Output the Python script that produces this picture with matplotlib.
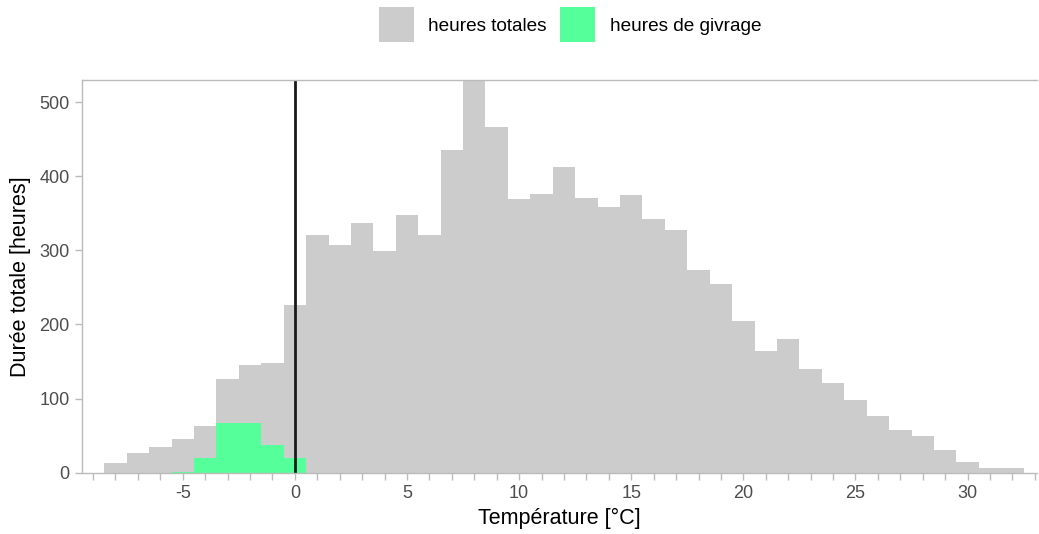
import numpy as np
import matplotlib
matplotlib.use("Agg")
import matplotlib.pyplot as plt
from matplotlib.patches import Patch

plt.rcParams['font.family'] = ['Liberation Sans', 'DejaVu Sans']
plt.rcParams['axes.unicode_minus'] = False

# bins of 1 degC centred on integer temperatures
temp_total = list(range(-8, 33))
heures_totales = [13.5, 26, 35, 46, 63, 126, 145, 148, 226,
                  320, 307, 337, 299, 348, 320, 435, 560, 466, 369,
                  376, 413, 371, 359, 375, 342, 328, 273, 255, 204,
                  164, 181, 140, 121, 98, 77, 58, 50, 30, 14, 6, 7]

temp_givrage = [-5, -4, -3, -2, -1, 0]
heures_givrage = [1, 19.5, 67.5, 67.5, 37, 20]

grey = "#cccccc"
green = "#55ff99"

fig = plt.figure(figsize=(10.39, 5.34), dpi=100)
ax = fig.add_axes([0.0792, 0.1148, 0.9190, 0.7348])

ax.bar(temp_total, heures_totales, width=1.0, color=grey, linewidth=0)
ax.bar(temp_givrage, heures_givrage, width=1.0, color=green, linewidth=0)
ax.axvline(0, color="#1a1a1a", linewidth=2)

ax.set_xlim(-9.48, 33.1)
ax.set_ylim(0, 529.3)

ax.set_xticks(np.arange(-5, 35, 5))
ax.set_xticks(np.arange(-9, 34, 1), minor=True)
ax.set_yticks(np.arange(0, 600, 100))
ax.tick_params(axis='both', which='both', length=5, width=1, color="#bbbbbb",
               labelsize=13, labelcolor="#4d4d4d", pad=4)
ax.tick_params(axis='x', which='minor', labelbottom=False)

for side in ['left', 'top', 'bottom']:
    ax.spines[side].set_color("#bbbbbb")
    ax.spines[side].set_linewidth(1)
ax.spines['right'].set_visible(False)

ax.set_xlabel("Température [°C]", fontsize=15.5, labelpad=4)
ax.set_ylabel("Durée totale [heures]", fontsize=15.5, labelpad=6)

handles = [Patch(facecolor=grey, label="heures totales"),
           Patch(facecolor=green, label="heures de givrage")]
fig.legend(handles=handles, loc="center", bbox_to_anchor=(0.5485, 0.9536),
           ncol=2, frameon=False, fontsize=13.7, handlelength=1.84, handleheight=2.45,
           handletextpad=0.75, columnspacing=0.74, borderpad=0, borderaxespad=0)

fig.savefig("out.png", dpi=100)
